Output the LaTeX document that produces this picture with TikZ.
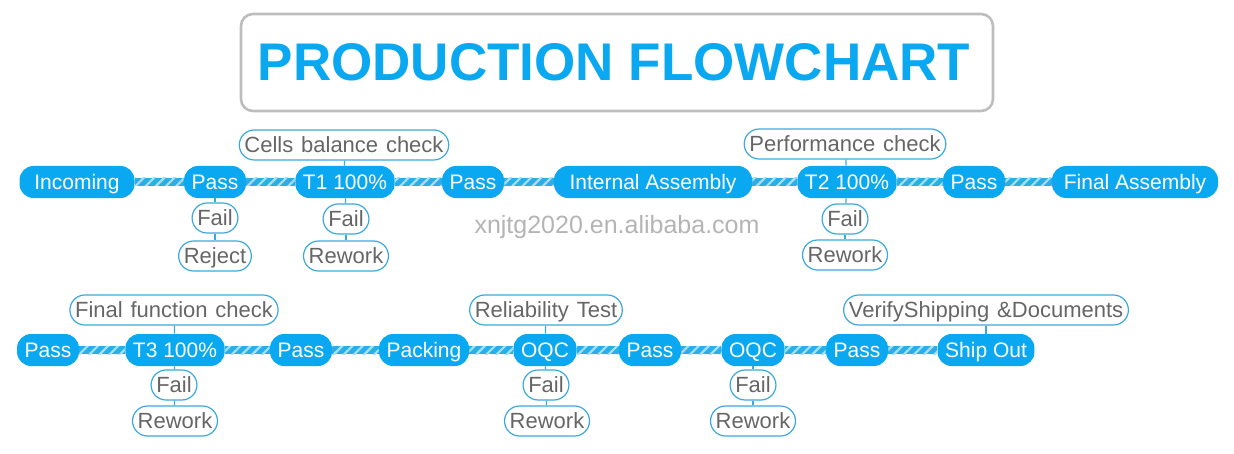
\documentclass[tikz,border=0pt]{standalone}
\usepackage{fontspec}
\setmainfont{Liberation Sans}
\usetikzlibrary{calc, patterns.meta}

\definecolor{flowblue}{HTML}{0AA8F0}
\definecolor{barblue}{HTML}{2AAEE8}
\definecolor{stripeblue}{HTML}{A4E0FA}
\definecolor{edgeblue}{HTML}{3BA9DD}
\definecolor{labelgrey}{HTML}{666666}
\definecolor{framegrey}{HTML}{BDBDBD}
\definecolor{markgrey}{HTML}{B4B4B4}

% hatched bar between two main steps
\newcommand{\flowlink}[2]{%
  \fill[barblue] ($(#1.east)+(0,-4)$) rectangle ($(#2.west)+(0,4)$);
  \fill[pattern={Lines[angle=45,distance=3.6pt,line width=1.1pt]}, pattern color=stripeblue]
    ($(#1.east)+(0,-4)$) rectangle ($(#2.west)+(0,4)$);}
\newcommand{\subfont}{\fontsize{11}{12}\selectfont\spaceskip=3.9pt\relax}

\begin{document}
\begin{tikzpicture}[x=0.5pt, y=-0.5pt,
  mainstep/.style={fill=flowblue, text=white, rounded corners=7pt, minimum height=16pt,
    inner xsep=3.8pt, inner ysep=0pt, text height=8.5pt, text depth=1pt,
    font=\fontsize{10.5}{12}\selectfont},
  substep/.style={draw=edgeblue, line width=0.6pt, fill=white, text=labelgrey,
    rounded corners=7.5pt, minimum height=15pt, inner xsep=2.6pt, inner ysep=0pt,
    text height=8.9pt, text depth=1pt, font=\subfont},
  stem/.style={edgeblue, line width=0.6pt}]

\useasboundingbox (0,0) rectangle (1234,454);

% title
\draw[framegrey, line width=1.3pt, rounded corners=6pt] (241,14) rectangle (993,111);
\node[text=flowblue, font=\fontsize{26.5}{30}\selectfont\bfseries] (title) at (614,62) {PRODUCTION FLOWCHART};

\node[text=markgrey, font=\fontsize{12.5}{14}\selectfont] (mark) at (617,227) {xnjtg2020.en.alibaba.com};

% first row
\node[mainstep, minimum width=57.5pt] (inc) at (77,182) {Incoming};
\node[mainstep] (pa) at (215,182) {Pass};
\node[mainstep] (tA) at (345,182) {T1 100\%};
\node[mainstep] (pb) at (473,182) {Pass};
\node[mainstep, minimum width=99pt] (ia) at (653,182) {Internal Assembly};
\node[mainstep] (tB) at (847,182) {T2 100\%};
\node[mainstep] (pc) at (974,182) {Pass};
\node[mainstep, minimum width=83pt] (fa) at (1135,182) {Final Assembly};

\flowlink{inc}{pa}
\flowlink{pa}{tA}
\flowlink{tA}{pb}
\flowlink{pb}{ia}
\flowlink{ia}{tB}
\flowlink{tB}{pc}
\flowlink{pc}{fa}

\node[substep] (cbc) at (344,145) {Cells balance check};
\node[substep] (fA) at (215,218) {Fail};
\node[substep] (rej) at (215,256) {Reject};
\node[substep] (fB) at (346,219) {Fail};
\node[substep] (rwB) at (346,256) {Rework};
\node[substep] (perf) at (845,144) {Performance check};
\node[substep] (fC) at (845,219) {Fail};
\node[substep] (rwC) at (845,255) {Rework};

\draw[stem] (pa) -- (fA);
\draw[stem] (fA) -- (rej);
\draw[stem] (cbc) -- (tA);
\draw[stem] (tA) -- (fB);
\draw[stem] (fB) -- (rwB);
\draw[stem] (perf) -- (tB);
\draw[stem] (tB) -- (fC);
\draw[stem] (fC) -- (rwC);

% second row
\node[mainstep] (pd) at (48,350) {Pass};
\node[mainstep] (tC) at (175,350) {T3 100\%};
\node[mainstep] (pe) at (301,350) {Pass};
\node[mainstep] (pk) at (424,350) {Packing};
\node[mainstep] (oqA) at (545,350) {OQC};
\node[mainstep] (pf) at (650,350) {Pass};
\node[mainstep] (oqB) at (753,350) {OQC};
\node[mainstep] (pg) at (857,350) {Pass};
\node[mainstep] (so) at (986,350) {Ship Out};

\flowlink{pd}{tC}
\flowlink{tC}{pe}
\flowlink{pe}{pk}
\flowlink{pk}{oqA}
\flowlink{oqA}{pf}
\flowlink{pf}{oqB}
\flowlink{oqB}{pg}
\flowlink{pg}{so}

\node[substep] (ffc) at (174,310) {Final function check};
\node[substep] (fD) at (174,385) {Fail};
\node[substep] (rwD) at (175,421) {Rework};
\node[substep] (rel) at (546,310) {Reliability Test};
\node[substep] (fE) at (546,385) {Fail};
\node[substep] (rwE) at (547,421) {Rework};
\node[substep] (fF) at (753,385) {Fail};
\node[substep] (rwF) at (753,421) {Rework};
\node[substep] (vsd) at (986,310) {VerifyShipping \&Documents};

\draw[stem] (ffc) -- (tC);
\draw[stem] (tC) -- (fD);
\draw[stem] (fD) -- (rwD);
\draw[stem] (rel) -- (oqA);
\draw[stem] (oqA) -- (fE);
\draw[stem] (fE) -- (rwE);
\draw[stem] (oqB) -- (fF);
\draw[stem] (fF) -- (rwF);
\draw[stem] (vsd) -- (so);

\end{tikzpicture}
\end{document}
